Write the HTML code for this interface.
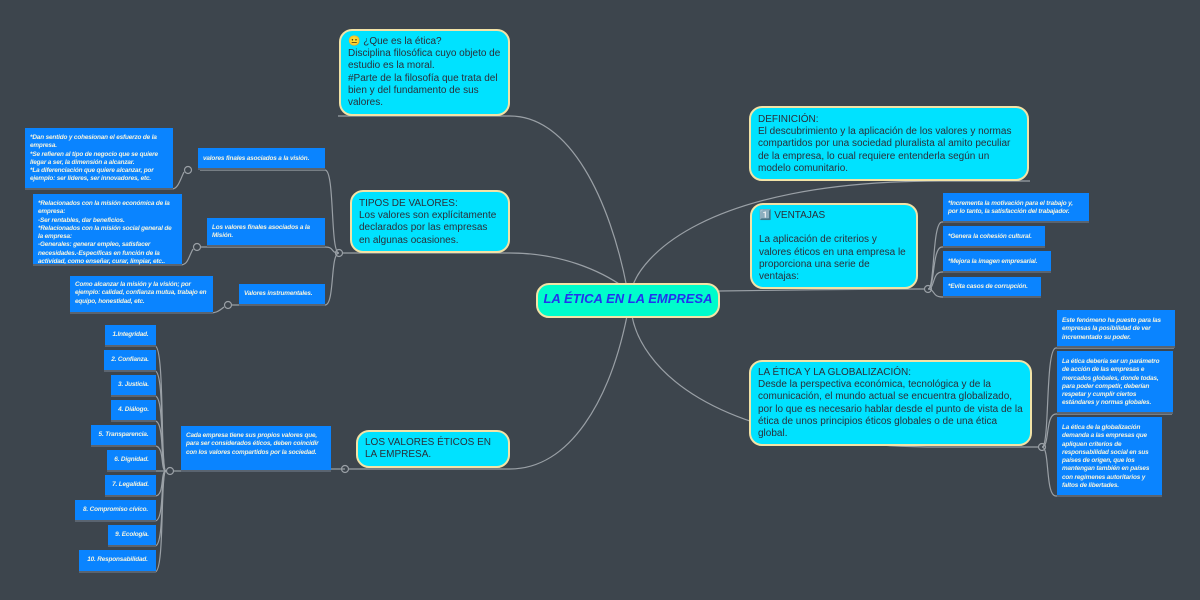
<!DOCTYPE html><html><head><meta charset="utf-8"><style>
body{margin:0;width:1200px;height:600px;background:#3d454d;position:relative;overflow:hidden;font-family:"Liberation Sans","DejaVu Sans",sans-serif}
.n{position:absolute;box-sizing:border-box;background:#00e2ff;border:2px solid #f3e3a6;border-radius:13px;color:#2a2f3a;font-size:10px;line-height:12.2px;padding:5px 7px;font-family:"Liberation Sans",sans-serif}
.b{position:absolute;box-sizing:border-box;background:#0a84ff;border-bottom:2px solid #5a6470;color:#f3f3e0;font-size:6.4px;line-height:8.3px;font-weight:bold;font-style:italic;padding:4px 5px;letter-spacing:-0.15px;font-family:"Liberation Sans",sans-serif}
.c{text-align:center;padding:6px 1px}
svg{position:absolute;left:0;top:0}
</style></head><body>
<svg width="1200" height="600" fill="none" stroke="#9aa0a6" stroke-width="1.2">
<path d="M338 116 H510 C570 116 610 200 627 288"/>
<path d="M339 253 H510 C560 253 600 270 625 288"/>
<path d="M345 469 H510 C570 469 610 400 627 316"/>
<path d="M1030 181 H940 C700 181 640 260 632 288"/>
<path d="M719 291 C760 290 900 289 917 289 H928"/>
<path d="M1040 447 H940 C700 447 640 360 632 316"/>
<circle cx="339" cy="253" r="3.5" fill="#3d454d"/>
<circle cx="345" cy="469" r="3.5" fill="#3d454d"/>
<circle cx="928" cy="289" r="3.5" fill="#3d454d"/>
<circle cx="1042" cy="447" r="3.5" fill="#3d454d"/>
<path d="M339 253 C330 253 335 170 325 170 H200"/>
<path d="M339 253 C330 253 335 247 325 247 H200"/>
<path d="M339 253 C330 253 335 305 325 305 H230"/>
<circle cx="188" cy="170" r="3.5" fill="#3d454d"/><path d="M184 172 C180 180 178 189 172 189 H25"/>
<circle cx="197" cy="247" r="3.5" fill="#3d454d"/><path d="M193 249 C188 258 188 265 180 265 H33"/>
<circle cx="228" cy="305" r="3.5" fill="#3d454d"/><path d="M224 307 C218 312 215 313 210 313 H71"/>
<path d="M345 469 H330"/><circle cx="170" cy="471" r="3.5" fill="#3d454d"/>
<path d="M182 471 H174"/>
<path d="M166 471 C160 471 165 346 155 346 H105"/>
<path d="M166 471 C160 471 165 371 155 371"/>
<path d="M166 471 C160 471 165 396 155 396"/>
<path d="M166 471 C160 471 165 421 155 421"/>
<path d="M166 471 C160 471 165 446 155 446"/>
<path d="M166 471 C160 471 165 471 155 471"/>
<path d="M166 471 C160 471 165 496 155 496"/>
<path d="M166 471 C160 471 165 521 155 521"/>
<path d="M166 471 C160 471 165 546 155 546"/>
<path d="M166 471 C160 471 165 572 155 572"/>
<path d="M928 289 C935 289 932 222 942 222 H1088"/>
<path d="M928 289 C935 289 932 247 942 247 H1044"/>
<path d="M928 289 C935 289 932 272 942 272 H1050"/>
<path d="M928 289 C935 289 932 297 942 297 H1040"/>
<path d="M1042 447 C1050 447 1045 348 1056 348 H1174"/>
<path d="M1042 447 C1050 447 1045 414 1056 414 H1172"/>
<path d="M1042 447 C1050 447 1045 496 1056 496 H1160"/>
</svg>
<div class="n" style="left:536px;top:283px;width:184px;height:35px;background:#00fccb;color:#2233ee;font-weight:bold;font-style:italic;font-size:13px;padding:8px 0;text-align:center">LA ÉTICA EN LA EMPRESA</div>
<div class="n" style="left:339px;top:29px;width:171px;height:87px;padding-top:5px">😐 ¿Que es la ética?<br>Disciplina filosófica cuyo objeto de estudio es la moral.<br>#Parte de la filosofía que trata del bien y del fundamento de sus valores.</div>
<div class="n" style="left:350px;top:190px;width:160px;height:63px;padding-top:6px">TIPOS DE VALORES:<br>Los valores son explícitamente declarados por las empresas en algunas ocasiones.</div>
<div class="n" style="left:356px;top:430px;width:154px;height:38px;padding-top:5px">LOS VALORES ÉTICOS EN LA EMPRESA.</div>
<div class="n" style="left:749px;top:106px;width:280px;height:75px;padding-top:6px">DEFINICIÓN:<br>El descubrimiento y la aplicación de los valores y normas compartidos por una sociedad pluralista al amito peculiar de la empresa, lo cual requiere entenderla según un modelo comunitario.</div>
<div class="n" style="left:750px;top:203px;width:168px;height:86px">1️⃣ VENTAJAS<br><br>La aplicación de criterios y valores éticos en una empresa le proporciona una serie de ventajas:</div>
<div class="n" style="left:749px;top:360px;width:283px;height:86px;padding-top:5px">LA ÉTICA Y LA GLOBALIZACIÓN:<br>Desde la perspectiva económica, tecnológica y de la comunicación, el mundo actual se encuentra globalizado, por lo que es necesario hablar desde el punto de vista de la ética de unos principios éticos globales o de una ética global.</div>
<div class="b" style="left:25px;top:128px;width:148px;height:62px;padding-top:6px">*Dan sentido y cohesionan el esfuerzo de la empresa.<br>*Se refieren al tipo de negocio que se quiere llegar a ser, la dimensión a alcanzar.<br>*La diferenciación que quiere alcanzar, por ejemplo: ser líderes, ser innovadores, etc.</div>
<div class="b" style="left:198px;top:148px;width:127px;height:22px;padding-top:7px">valores finales asociados a la visión.</div>
<div class="b" style="left:33px;top:194px;width:149px;height:72px;padding-top:6px">*Relacionados con la misión económica de la empresa:<br>-Ser rentables, dar beneficios.<br>*Relacionados con la misión social general de la empresa:<br>-Generales: generar empleo, satisfacer necesidades.-Específicas en función de la actividad, como enseñar, curar, limpiar, etc..</div>
<div class="b" style="left:207px;top:218px;width:118px;height:29px;padding-top:6px">Los valores finales asociados a la Misión.</div>
<div class="b" style="left:70px;top:276px;width:143px;height:38px;padding-top:5px">Como alcanzar la misión y la visión; por ejemplo: calidad, confianza mutua, trabajo en equipo, honestidad, etc.</div>
<div class="b" style="left:239px;top:284px;width:86px;height:22px;padding-top:6px">Valores instrumentales.</div>
<div class="b" style="left:181px;top:426px;width:150px;height:46px;padding-top:6px">Cada empresa tiene sus propios valores que, para ser considerados éticos, deben coincidir con los valores compartidos por la sociedad.</div>
<div class="b c" style="left:105px;top:325px;width:51px;height:22px">1.Integridad.</div>
<div class="b c" style="left:104px;top:350px;width:52px;height:22px">2. Confianza.</div>
<div class="b c" style="left:111px;top:375px;width:45px;height:22px">3. Justicia.</div>
<div class="b c" style="left:111px;top:400px;width:45px;height:22px">4. Diálogo.</div>
<div class="b c" style="left:91px;top:425px;width:65px;height:22px">5. Transparencia.</div>
<div class="b c" style="left:107px;top:450px;width:49px;height:22px">6. Dignidad.</div>
<div class="b c" style="left:105px;top:475px;width:51px;height:22px">7. Legalidad.</div>
<div class="b c" style="left:75px;top:500px;width:81px;height:22px">8. Compromiso cívico.</div>
<div class="b c" style="left:108px;top:525px;width:48px;height:22px">9. Ecología.</div>
<div class="b c" style="left:79px;top:550px;width:77px;height:23px">10. Responsabilidad.</div>
<div class="b" style="left:943px;top:193px;width:146px;height:30px;padding-top:7px">*Incrementa la motivación para el trabajo y, por lo tanto, la satisfacción del trabajador.</div>
<div class="b" style="left:943px;top:226px;width:102px;height:22px;padding-top:7px;white-space:nowrap">*Genera la cohesión cultural.</div>
<div class="b" style="left:943px;top:251px;width:108px;height:22px;padding-top:7px;white-space:nowrap">*Mejora la imagen empresarial.</div>
<div class="b" style="left:943px;top:277px;width:98px;height:21px;padding-top:6px;white-space:nowrap">*Evita casos de corrupción.</div>
<div class="b" style="left:1057px;top:310px;width:118px;height:38px;padding-top:7px">Este fenómeno ha puesto para las empresas la posibilidad de ver incrementado su poder.</div>
<div class="b" style="left:1057px;top:351px;width:116px;height:63px;padding-top:7px">La ética debería ser un parámetro de acción de las empresas e mercados globales, donde todas, para poder competir, deberían respetar y cumplir ciertos estándares y normas globales.</div>
<div class="b" style="left:1057px;top:417px;width:105px;height:80px;padding-top:7px">La ética de la globalización demanda a las empresas que apliquen criterios de responsabilidad social en sus países de origen, que los mantengan también en países con regímenes autoritarios y faltos de libertades.</div>
</body></html>
